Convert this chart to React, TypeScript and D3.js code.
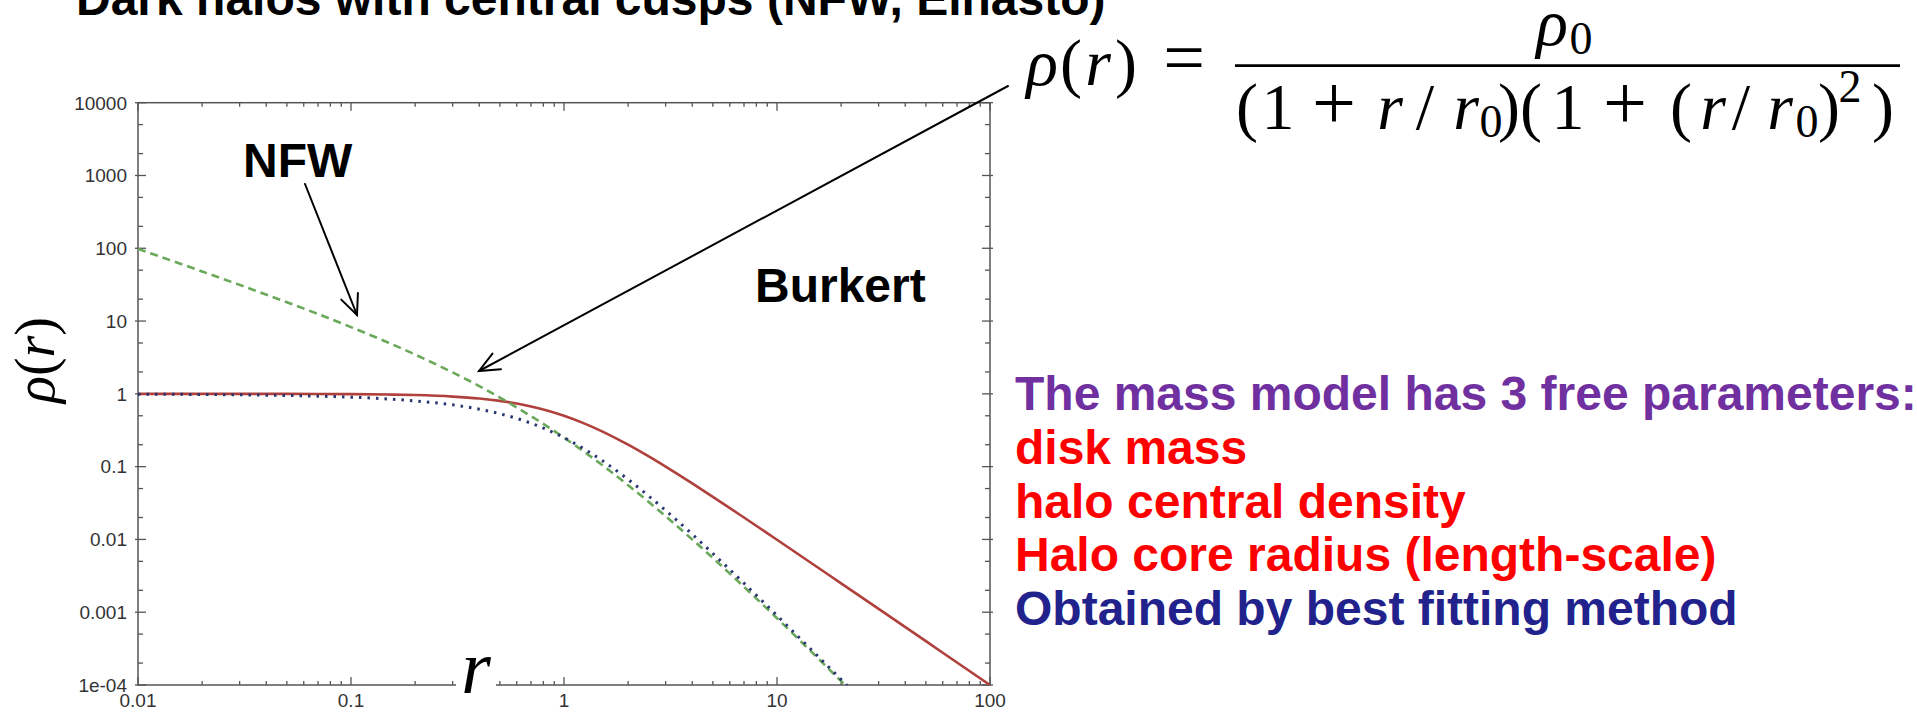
import React from 'react';
import * as d3 from 'd3';

// Radii sampled along the profiles (units of r0)
const radii = [0.01, 0.02, 0.03, 0.05, 0.07, 0.1, 0.15, 0.2, 0.3, 0.4, 0.5, 0.6, 0.7, 0.8, 1, 1.25, 1.5, 2, 2.5, 3, 4, 5, 7, 10, 15, 20, 30, 50, 70, 100];

// Solid red profile (cored, falls as r^-2)
const coredDensity = [1.0, 1.0, 0.999, 0.998, 0.995, 0.99, 0.978, 0.962, 0.917, 0.862, 0.8, 0.735, 0.671, 0.61, 0.5, 0.39, 0.308, 0.2, 0.138, 0.1, 0.0588, 0.0385, 0.02, 0.0099, 0.00442, 0.00249, 0.00111, 0.0004, 0.000204, 0.0001];

// Dotted blue profile (Burkert)
const burkertDensity = [0.99, 0.98, 0.97, 0.95, 0.93, 0.9, 0.85, 0.8, 0.706, 0.616, 0.533, 0.46, 0.395, 0.339, 0.25, 0.173, 0.123, 0.0667, 0.0394, 0.025, 0.0118, 0.0064, 0.0025, 0.0009, 0.000277, 0.000119, 0.0000358, 0.0000078, 0.0000029, 0.000001];

// Dashed green profile (NFW cusp)
const nfwDensity = [98, 48.1, 31.4, 18.1, 12.5, 8.26, 5.04, 3.47, 1.97, 1.28, 0.889, 0.651, 0.494, 0.386, 0.25, 0.158, 0.107, 0.0556, 0.0327, 0.0208, 0.01, 0.00556, 0.00223, 0.000826, 0.00026, 0.000113, 0.0000347, 0.0000077, 0.0000028, 0.0000001];

const xTickValues = [0.01, 0.1, 1, 10, 100];
const xTickLabels = ['0.01', '0.1', '1', '10', '100'];
const yTickValues = [10000, 1000, 100, 10, 1, 0.1, 0.01, 0.001, 0.0001];
const yTickLabels = ['10000', '1000', '100', '10', '1', '0.1', '0.01', '0.001', '1e-04'];

const parameterLines = [
  { text: 'The mass model has 3 free parameters:', color: '#7030a0' },
  { text: 'disk mass', color: '#ff0000' },
  { text: 'halo central density', color: '#ff0000' },
  { text: 'Halo core radius (length-scale)', color: '#ff0000' },
  { text: 'Obtained by best fitting method', color: '#22228c' },
];

const SANS = '"Liberation Sans", Arial, Helvetica, sans-serif';
const SERIF = '"Liberation Serif", "Times New Roman", serif';

function Arrow({ x1, y1, x2, y2 }: { x1: number; y1: number; x2: number; y2: number }) {
  const ang = Math.atan2(y2 - y1, x2 - x1);
  const len = 22;
  const spread = (24 * Math.PI) / 180;
  const a1 = ang + Math.PI - spread;
  const a2 = ang + Math.PI + spread;
  return (
    <g stroke="#000" strokeWidth={2} fill="none" strokeLinecap="round">
      <line x1={x1} y1={y1} x2={x2} y2={y2} />
      <path d={`M${x2 + len * Math.cos(a1)},${y2 + len * Math.sin(a1)} L${x2},${y2} L${x2 + len * Math.cos(a2)},${y2 + len * Math.sin(a2)}`} />
    </g>
  );
}

type Glyph = { t: string; cx: number; y: number; size: number; italic?: boolean };

export default function App() {
  const W = 1917;
  const H = 713;
  const left = 138;
  const right = 990;
  const top = 102.7;
  const bottom = 685;

  const x = d3.scaleLog().domain([0.01, 100]).range([left, right]);
  const y = d3.scaleLog().domain([1e-4, 1e4]).range([bottom, top]);

  const line = d3
    .line<[number, number]>()
    .x((d) => x(d[0]))
    .y((d) => y(d[1]))
    .curve(d3.curveMonotoneX);

  const series = (vals: number[]) => radii.map((r, i) => [r, vals[i]] as [number, number]);

  const xMinor: number[] = [];
  [0.01, 0.1, 1, 10].forEach((dec) => {
    for (let k = 2; k <= 9; k++) xMinor.push(dec * k);
  });
  const yMinor: number[] = [];
  [0.0001, 0.001, 0.01, 0.1, 1, 10, 100, 1000].forEach((dec) => {
    yMinor.push(dec * 2, dec * 5);
  });

  const axisColor = '#555';

  // Formula glyphs: rho(r) = rho0 / ((1 + r/r0)(1 + (r/r0)^2))
  const big = 66;
  const small = 46;
  const mainBase = 85;
  const denBase = 129;
  const glyphs: Glyph[] = [
    { t: 'ρ', cx: 1042, y: mainBase, size: big, italic: true },
    { t: '(', cx: 1071, y: mainBase, size: big },
    { t: 'r', cx: 1098, y: mainBase, size: big, italic: true },
    { t: ')', cx: 1126, y: mainBase, size: big },
    { t: '=', cx: 1184, y: 82, size: 74 },
    { t: 'ρ', cx: 1552, y: 45, size: big, italic: true },
    { t: '0', cx: 1581, y: 54, size: small },
    { t: '(', cx: 1247, y: denBase, size: big },
    { t: '1', cx: 1278, y: denBase, size: big },
    { t: '+', cx: 1334, y: denBase, size: 78 },
    { t: 'r', cx: 1390, y: denBase, size: big, italic: true },
    { t: '/', cx: 1425, y: denBase, size: big },
    { t: 'r', cx: 1466, y: denBase, size: big, italic: true },
    { t: '0', cx: 1491, y: 137, size: small },
    { t: ')', cx: 1509, y: denBase, size: big },
    { t: '(', cx: 1531, y: denBase, size: big },
    { t: '1', cx: 1568, y: denBase, size: big },
    { t: '+', cx: 1625, y: denBase, size: 78 },
    { t: '(', cx: 1681, y: denBase, size: big },
    { t: 'r', cx: 1713, y: denBase, size: big, italic: true },
    { t: '/', cx: 1741, y: denBase, size: big },
    { t: 'r', cx: 1780, y: denBase, size: big, italic: true },
    { t: '0', cx: 1807, y: 137, size: small },
    { t: ')', cx: 1829, y: denBase, size: big },
    { t: '2', cx: 1850, y: 102, size: small },
    { t: ')', cx: 1883, y: denBase, size: big },
  ];

  return (
    <svg
      width={W}
      height={H}
      viewBox={`0 0 ${W} ${H}`}
      style={{ position: 'absolute', left: 0, top: 0, background: '#fff' }}
    >
      <defs>
        <clipPath id="plot-area">
          <rect x={left} y={top} width={right - left} height={bottom - top} />
        </clipPath>
      </defs>
      <rect width={W} height={H} fill="#fff" />

      {/* Slide title, partly above the top edge */}
      <text x={76} y={15} fontFamily={SANS} fontWeight="bold" fontSize={48} fill="#000">
        Dark halos with central cusps (NFW, Einasto)
      </text>

      {/* Frame */}
      <rect x={left} y={top} width={right - left} height={bottom - top} fill="none" stroke={axisColor} strokeWidth={1.5} />

      {/* x ticks, bottom and top; y ticks, left and right */}
      <g stroke={axisColor} strokeWidth={1.3}>
        {xTickValues.map((v) => (
          <g key={'xm' + v}>
            <line x1={x(v)} x2={x(v)} y1={bottom} y2={bottom - 8} />
            <line x1={x(v)} x2={x(v)} y1={top} y2={top + 8} />
          </g>
        ))}
        {xMinor.map((v) => (
          <g key={'xn' + v}>
            <line x1={x(v)} x2={x(v)} y1={bottom} y2={bottom - 4} />
            <line x1={x(v)} x2={x(v)} y1={top} y2={top + 4} />
          </g>
        ))}
        {yTickValues.map((v) => (
          <g key={'ym' + v}>
            <line x1={left - 3} x2={left + 8} y1={y(v)} y2={y(v)} />
            <line x1={right + 3} x2={right - 8} y1={y(v)} y2={y(v)} />
          </g>
        ))}
        {yMinor.map((v) => (
          <g key={'yn' + v}>
            <line x1={left} x2={left + 5} y1={y(v)} y2={y(v)} />
            <line x1={right} x2={right - 5} y1={y(v)} y2={y(v)} />
          </g>
        ))}
      </g>

      {/* Tick labels */}
      <g fontFamily={SANS} fontSize={19} fill="#333">
        {yTickValues.map((v, i) => (
          <text key={'yl' + v} x={127} y={y(v)} dy="0.36em" textAnchor="end">
            {yTickLabels[i]}
          </text>
        ))}
        {xTickValues.map((v, i) => (
          <text key={'xl' + v} x={x(v)} y={707} textAnchor="middle">
            {xTickLabels[i]}
          </text>
        ))}
      </g>

      {/* Profiles */}
      <g clipPath="url(#plot-area)" fill="none">
        <path d={line(series(coredDensity)) || ''} stroke="#b0403c" strokeWidth={2.6} />
        <path d={line(series(nfwDensity)) || ''} stroke="#6aa85a" strokeWidth={2.6} strokeDasharray="8 5" />
        <path d={line(series(burkertDensity)) || ''} stroke="#2a3672" strokeWidth={3} strokeDasharray="2.5 6" />
      </g>

      {/* Axis titles */}
      <rect x={456} y={672} width={40} height={22} fill="#fff" />
      <text x={476} y={693} textAnchor="middle" fontFamily={SERIF} fontStyle="italic" fontSize={76} fill="#000">
        r
      </text>
      <text transform="translate(54,360) rotate(-90)" textAnchor="middle" fontFamily={SERIF} fontSize={56} fill="#000">
        <tspan fontStyle="italic">ρ</tspan>(<tspan fontStyle="italic">r</tspan>)
      </text>

      {/* Labels and arrows */}
      <text x={243} y={177} fontFamily={SANS} fontWeight="bold" fontSize={48} fill="#000">
        NFW
      </text>
      <Arrow x1={305} y1={184} x2={357} y2={315} />
      <text x={755} y={302} fontFamily={SANS} fontWeight="bold" fontSize={48} fill="#000">
        Burkert
      </text>
      <Arrow x1={1008} y1={86} x2={479} y2={371} />

      {/* Density formula */}
      <g fontFamily={SERIF} fill="#000">
        {glyphs.map((g, i) => (
          <text key={i} x={g.cx} y={g.y} textAnchor="middle" fontSize={g.size} fontStyle={g.italic ? 'italic' : 'normal'}>
            {g.t}
          </text>
        ))}
      </g>
      <line x1={1235} x2={1900} y1={65.7} y2={65.7} stroke="#000" strokeWidth={2.7} />

      {/* Parameter list */}
      <g fontFamily={SANS} fontWeight="bold" fontSize={48}>
        {parameterLines.map((l, i) => (
          <text key={i} x={1015} y={410 + i * 53.8} fill={l.color}>
            {l.text}
          </text>
        ))}
      </g>
    </svg>
  );
}
